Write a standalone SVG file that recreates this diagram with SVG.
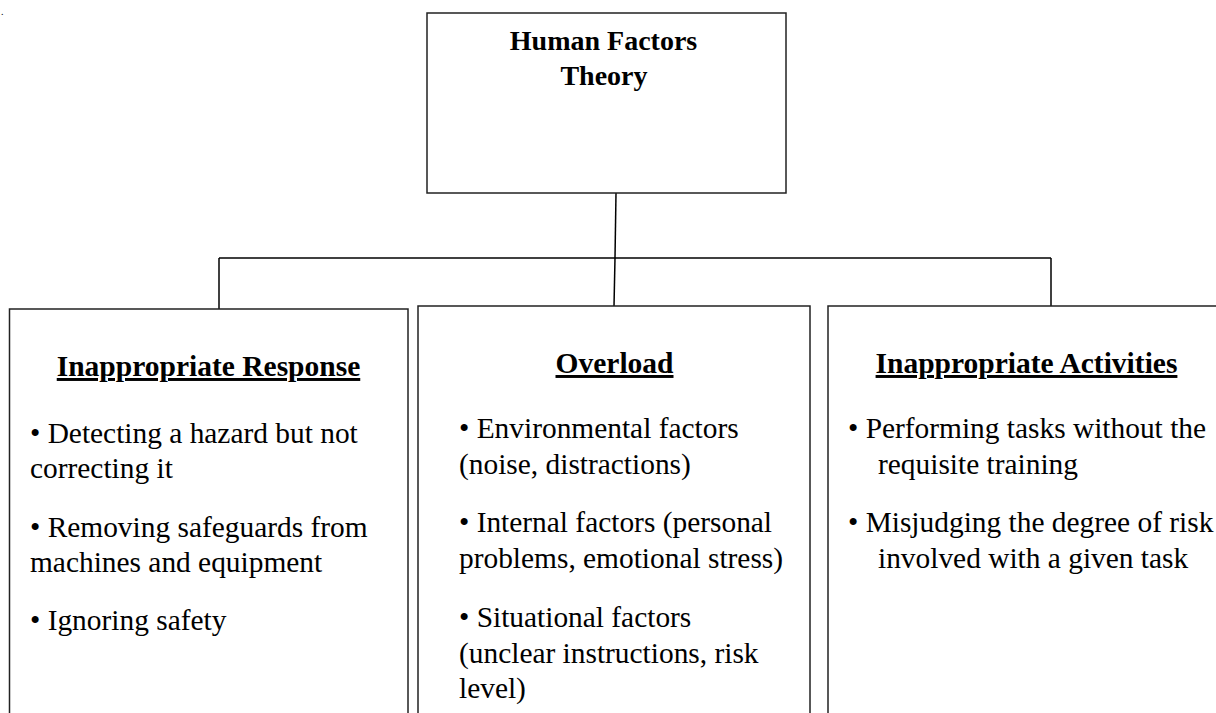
<svg xmlns="http://www.w3.org/2000/svg" width="1216" height="713" viewBox="0 0 1216 713">
<style>
.box{fill:#fff;stroke:#222;stroke-width:1.5}
.con{fill:none;stroke:#000;stroke-width:1.5}
.t{font-family:"Liberation Serif","Times New Roman",serif;fill:#000}
.title{font-size:28px;font-weight:bold;text-anchor:middle}
.head{font-size:29.5px;font-weight:bold;text-anchor:middle;text-decoration:underline}
.body{font-size:29.4px}
</style>
<rect width="1216" height="713" fill="#fff"/>
<text class="t" x="1" y="15" font-size="10">.</text>
<g id="connectors">
<path class="con" d="M616,193 L615,258"/>
<path class="con" d="M219,258 L1051,258"/>
<path class="con" d="M219,258 L219,309"/>
<path class="con" d="M615,258 L614,306"/>
<path class="con" d="M1051,258 L1051,306"/>
</g>
<g id="root">
<rect class="box" x="427" y="13" width="359" height="180"/>
<text class="t title" x="603.5" y="50">Human Factors</text>
<text class="t title" x="604" y="85">Theory</text>
</g>
<g id="response">
<rect class="box" x="9.5" y="309" width="398.5" height="420"/>
<text class="t head" x="208.5" y="376">Inappropriate Response</text>
<text class="t body" x="30" y="443">• Detecting a hazard but not</text>
<text class="t body" x="30" y="478">correcting it</text>
<text class="t body" x="30" y="537">• Removing safeguards from</text>
<text class="t body" x="30" y="572">machines and equipment</text>
<text class="t body" x="30" y="630">• Ignoring safety</text>
</g>
<g id="overload">
<rect class="box" x="418" y="306" width="392" height="420"/>
<text class="t head" x="614.5" y="373">Overload</text>
<text class="t body" x="459" y="438">• Environmental factors</text>
<text class="t body" x="459" y="474">(noise, distractions)</text>
<text class="t body" x="459" y="532">• Internal factors (personal</text>
<text class="t body" x="459" y="568">problems, emotional stress)</text>
<text class="t body" x="459" y="627">• Situational factors</text>
<text class="t body" x="459" y="663">(unclear instructions, risk</text>
<text class="t body" x="459" y="698">level)</text>
</g>
<g id="activities">
<rect class="box" x="828" y="306" width="400" height="420"/>
<text class="t head" x="1026.5" y="373">Inappropriate Activities</text>
<text class="t body" x="848" y="438">• Performing tasks without the</text>
<text class="t body" x="878" y="474">requisite training</text>
<text class="t body" x="848" y="532">• Misjudging the degree of risk</text>
<text class="t body" x="878" y="568">involved with a given task</text>
</g>
</svg>
